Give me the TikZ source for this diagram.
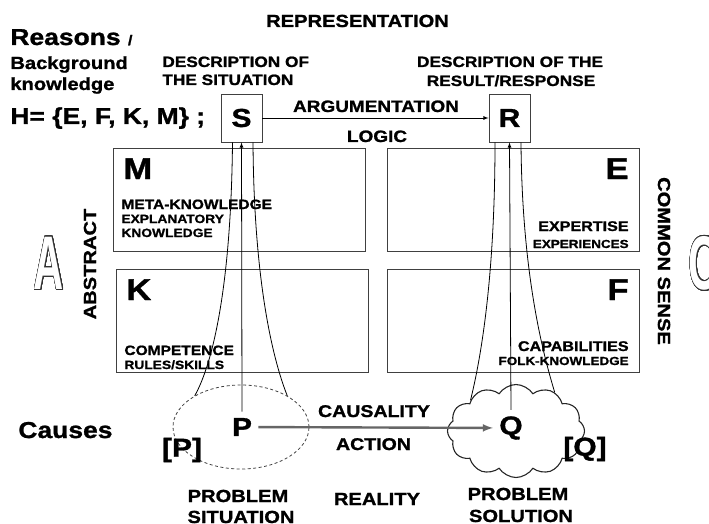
\documentclass[tikz,border=0pt]{standalone}
\usepackage{fontspec}
\setmainfont{Liberation Sans}[FakeStretch=1.15, BoldFeatures={FakeBold=1.2}]
\newfontfamily\outlfont{Liberation Sans Bold}
\usepackage[copies]{contour}
\usetikzlibrary{shapes.geometric,shapes.symbols}
\contourlength{1.1pt}
\contournumber{32}
\newcommand{\fsz}[1]{\fontsize{#1}{#1}\selectfont}
\newcommand{\outletter}[1]{\outlfont\fsz{76}\scalebox{0.55}[1]{\contour{black!80}{\textcolor{white}{#1}}}}

\tikzset{
  txt/.style={inner sep=0pt, font=\bfseries\fsz{#1}},
  txt/.default=15,
  letterbox/.style={draw=black!75, line width=0.9pt, minimum width=41pt,
    minimum height=48pt, inner sep=0pt, font=\bfseries\fsz{26}},
  quad/.style={draw=black!75, line width=0.9pt, minimum width=252pt,
    minimum height=103pt, inner sep=0pt},
  point/.style={inner sep=6pt, font=\bfseries\fsz{26}},
  causal/.style={line width=2.4pt, draw=black!60, -latex}
}

\begin{document}
\begin{tikzpicture}[x=1pt, y=-1pt, line width=0.8pt]
\useasboundingbox (0,0) rectangle (709,524);

% Representation level
\node[txt=17.5, anchor=base] (title) at (357.5,27) {REPRESENTATION};
\node[txt=23, anchor=base west] (reasons) at (10,45) {Reasons \fsz{14}/};
\node[txt=17.5, anchor=base west] (bg1) at (10,69) {Background};
\node[txt=17.5, anchor=base west] (bg2) at (10,90) {knowledge};
\node[txt=23, anchor=base west] (hset) at (10,124) {H= \{E, F, K, M\} ;};

\node[txt=15, anchor=base west] (dsit1) at (162,67) {DESCRIPTION OF};
\node[txt=15, anchor=base west] (dsit2) at (162,85) {THE SITUATION};
\node[txt=15, anchor=base] (dres1) at (510,67) {DESCRIPTION OF THE};
\node[txt=15, anchor=base] (dres2) at (511,86) {RESULT/RESPONSE};

\node[letterbox] (S) at (241.5,118) {S};
\node[letterbox] (R) at (509.5,118) {R};
\draw[-latex] (S) -- (R);
\node[txt=16.5, anchor=base] (arg) at (376,112) {ARGUMENTATION};
\node[txt=16.5, anchor=base] (logic) at (377,142) {LOGIC};

% Knowledge quadrants
\node[quad] (M) at (239.5,200) {};
\node[quad] (E) at (513,200) {};
\node[quad] (K) at (242,321) {};
\node[quad] (F) at (513,321) {};

\node[txt=30, anchor=base west] (Mlet) at (123,179) {M};
\node[txt=30, anchor=base east] (Elet) at (629,179) {E};
\node[txt=30, anchor=base west] (Klet) at (126,300) {K};
\node[txt=30, anchor=base east] (Flet) at (629,300) {F};

\node[txt=13.5, anchor=base west] (meta) at (121,209) {META-KNOWLEDGE};
\node[txt=12, anchor=base west] (expl1) at (121,223) {EXPLANATORY};
\node[txt=12, anchor=base west] (expl2) at (121,237) {KNOWLEDGE};
\node[txt=13.5, anchor=base west] (comp) at (124,355) {COMPETENCE};
\node[txt=12, anchor=base west] (rules) at (124,369) {RULES/SKILLS};
\node[txt=14, anchor=base east] (exper) at (629,231) {EXPERTISE};
\node[txt=11.7, anchor=base east] (experi) at (629,248) {EXPERIENCES};
\node[txt=14, anchor=base east] (capa) at (629,351) {CAPABILITIES};
\node[txt=11.7, anchor=base east] (folk) at (629,365) {FOLK-KNOWLEDGE};

\node[txt=17.5, rotate=90] (abstract) at (90,264) {ABSTRACT};
\node[txt=17.5, rotate=-90] (common) at (664,261) {COMMON SENSE};
\node[inner sep=0pt] (Aout) at (49,264) {\outletter{A}};
\node[inner sep=0pt] (Cout) at (704,264) {\outletter{C}};

% Reality level
\node[txt=23, anchor=base west] (causes) at (18,438) {Causes};
\node[draw=black!75, dash pattern=on 3pt off 2.5pt, ellipse,
  minimum width=136pt, minimum height=84pt] (Pell) at (241,427) {};
\node[cloud, draw=black!85, line width=1.1pt, cloud puffs=12, cloud puff arc=115,
  cloud ignores aspect, minimum width=137pt, minimum height=93pt] (Qcloud) at (516,431) {};
\node[point] (P) at (242,427) {P};
\node[point] (Q) at (511,428) {Q};
\node[txt=26] (Pbr) at (182,450) {[P]};
\node[txt=26] (Qbr) at (585,449) {[Q]};
\draw[causal] (P) -- (Q);
\node[txt=17, anchor=base] (causal) at (374,417) {CAUSALITY};
\node[txt=17, anchor=base] (action) at (373.5,450) {ACTION};

% Links between reality and representation
\draw[-latex] (P.north) -- (S.south);
\draw ([xshift=-9pt]S.south) .. controls (231,290) and (212,365) .. (Pell.146);
\draw ([xshift=11.5pt]S.south) .. controls (254,290) and (275,365) .. (Pell.34);
\draw[-latex] (Q.north) -- (R.south);
\draw ([xshift=-14.5pt]R.south) .. controls (495,290) and (478,370) .. (Qcloud.146);
\draw ([xshift=11.5pt]R.south) .. controls (522,280) and (545,360) .. (Qcloud.45);

\node[txt=17.5, anchor=base] (prob1) at (238,502) {PROBLEM};
\node[txt=17.5, anchor=base] (prob2) at (241,523) {SITUATION};
\node[txt=17.5, anchor=base] (reality) at (377,505) {REALITY};
\node[txt=17.5, anchor=base] (sol1) at (518,500) {PROBLEM};
\node[txt=17.5, anchor=base] (sol2) at (521,522) {SOLUTION};
\end{tikzpicture}
\end{document}
